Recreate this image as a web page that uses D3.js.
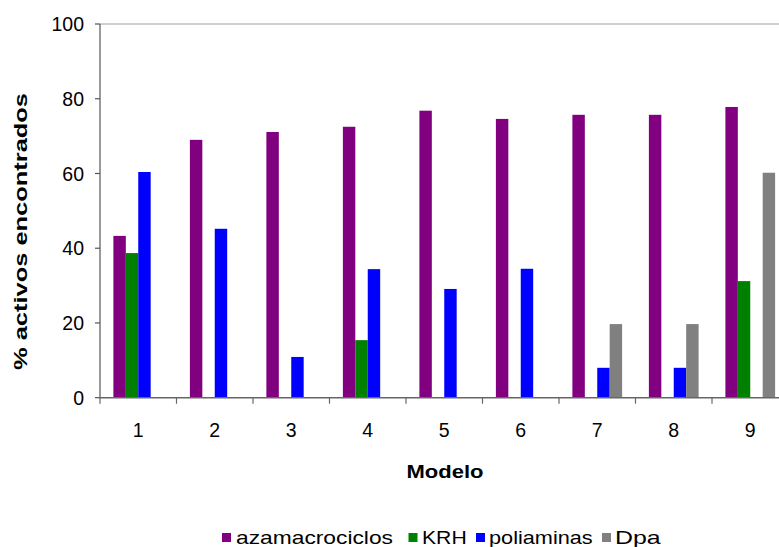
<!DOCTYPE html>
<html>
<head>
<meta charset="utf-8">
<script src="https://cdn.jsdelivr.net/npm/d3@7"></script>
<style>
  html, body { margin: 0; padding: 0; background: #fff; }
  svg { display: block; }
  text { font-family: "Liberation Sans", Arial, sans-serif; fill: #000; }
</style>
</head>
<body>
<svg id="chart" width="779" height="547"></svg>
<script>
const categories = ["1", "2", "3", "4", "5", "6", "7", "8", "9"];
const seriesNames = ["azamacrociclos", "KRH", "poliaminas", "Dpa"];
const azamacrociclos = [43.3, 69.0, 71.1, 72.5, 76.8, 74.6, 75.7, 75.7, 77.8];
const KRH = [38.7, 0, 0, 15.4, 0, 0, 0, 0, 31.2];
const poliaminas = [60.4, 45.2, 10.9, 34.4, 29.1, 34.5, 8.0, 8.0, 0];
const Dpa = [0, 0, 0, 0, 0, 0, 19.7, 19.7, 60.2];
const yTicks = [0, 20, 40, 60, 80, 100];
const colors = ["#800080", "#008000", "#0000FF", "#808080"];

const seriesValues = [azamacrociclos, KRH, poliaminas, Dpa];
const svg = d3.select("#chart");

const x0 = 100, yBottom = 397.7, yTop = 24;
const step = 76.5;
const x = d3.scaleBand().domain(categories)
  .range([x0, x0 + step * categories.length])
  .paddingInner(0.35).paddingOuter(0.175);
const xs = d3.scaleBand().domain(seriesNames).range([0, x.bandwidth()]);
const y = d3.scaleLinear().domain([0, 100]).range([yBottom, yTop]);

// top border line
svg.append("line")
  .attr("x1", x0).attr("x2", 779).attr("y1", y(100)).attr("y2", y(100))
  .attr("stroke", "#a0a0a0").attr("stroke-width", 1);

// bars
const rows = categories.map((c, i) => ({ c, vals: seriesNames.map((s, j) => ({ s, j, v: seriesValues[j][i] })) }));
const g = svg.append("g");
g.selectAll("g.cat").data(rows).join("g")
  .attr("transform", d => `translate(${x(d.c)},0)`)
  .selectAll("rect").data(d => d.vals.filter(v => v.v > 0)).join("rect")
  .attr("x", d => xs(d.s))
  .attr("width", xs.bandwidth())
  .attr("y", d => y(d.v))
  .attr("height", d => y(0) - y(d.v))
  .attr("fill", d => colors[d.j]);

// y axis
const yAxis = svg.append("g");
yAxis.append("line").attr("x1", x0).attr("x2", x0).attr("y1", y(100)).attr("y2", y(0))
  .attr("stroke", "#555").attr("stroke-width", 1.2);
yAxis.selectAll("line.t").data(yTicks).join("line").attr("class", "t")
  .attr("x1", x0 - 5).attr("x2", x0).attr("y1", d => y(d)).attr("y2", d => y(d))
  .attr("stroke", "#555").attr("stroke-width", 1.2);
yAxis.selectAll("text").data(yTicks).join("text")
  .attr("x", x0 - 16).attr("y", d => y(d)).attr("dy", "0.36em")
  .attr("text-anchor", "end").attr("font-size", 19.5)
  .text(d => d);

// x axis
const xAxis = svg.append("g");
xAxis.append("line").attr("x1", x0).attr("x2", 779).attr("y1", y(0)).attr("y2", y(0))
  .attr("stroke", "#666").attr("stroke-width", 1.6);
const bounds = d3.range(categories.length + 1).map(i => x0 + step * i);
xAxis.selectAll("line.t").data(bounds).join("line").attr("class", "t")
  .attr("x1", d => d).attr("x2", d => d).attr("y1", y(0)).attr("y2", y(0) + 6)
  .attr("stroke", "#666").attr("stroke-width", 1.2);
xAxis.selectAll("text").data(categories).join("text")
  .attr("x", d => x(d) + x.bandwidth() / 2).attr("y", 437)
  .attr("text-anchor", "middle").attr("font-size", 19.5)
  .text(d => d);

// axis titles
svg.append("text")
  .attr("x", 445).attr("y", 478).attr("text-anchor", "middle")
  .attr("font-size", 19).attr("font-weight", "bold")
  .attr("textLength", 77).attr("lengthAdjust", "spacingAndGlyphs")
  .text("Modelo");
svg.append("text")
  .attr("transform", "translate(27,231.5) rotate(-90)")
  .attr("text-anchor", "middle")
  .attr("font-size", 18).attr("font-weight", "bold")
  .attr("textLength", 277).attr("lengthAdjust", "spacingAndGlyphs")
  .text("% activos encontrados");

// legend
const legendX = [222, 408.5, 476, 602];
const legendTextX = [236, 422, 489, 615];
const legendTextW = [157, 44.7, 103.7, 45.7];
const lg = svg.append("g");
seriesNames.forEach((s, i) => {
  lg.append("rect").attr("x", legendX[i]).attr("y", 533).attr("width", 9).attr("height", 9)
    .attr("fill", colors[i]);
  lg.append("text").attr("x", legendTextX[i]).attr("y", 543.5)
    .attr("font-size", 19)
    .attr("textLength", legendTextW[i]).attr("lengthAdjust", "spacingAndGlyphs")
    .text(s);
});
</script>
</body>
</html>
